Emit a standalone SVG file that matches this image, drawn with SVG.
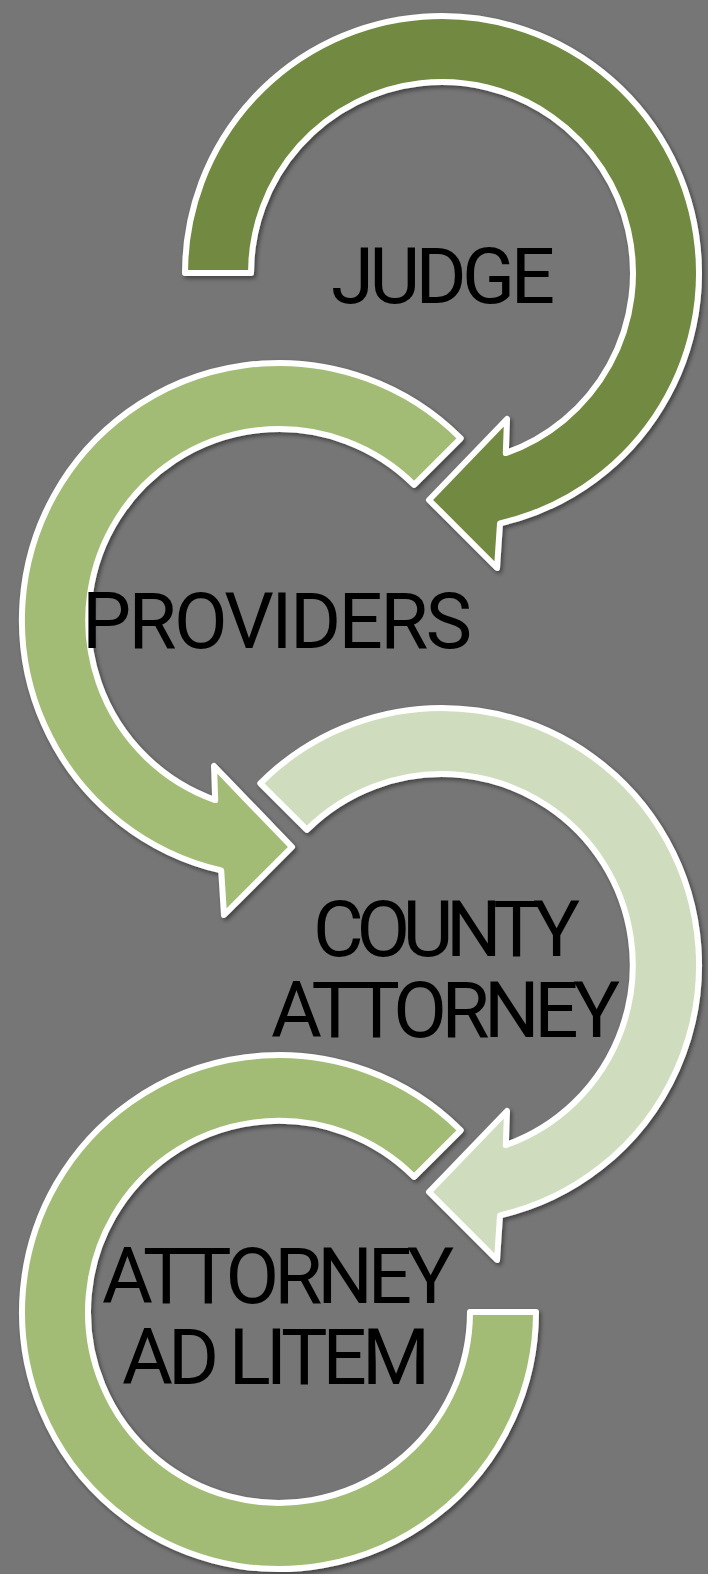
<svg xmlns="http://www.w3.org/2000/svg" width="708" height="1574" viewBox="0 0 708 1574">
<defs>
<filter id="sh" x="-10%" y="-10%" width="120%" height="120%">
<feDropShadow dx="2" dy="2.5" stdDeviation="2" flood-color="#000" flood-opacity="0.45"/>
</filter>
<style>
.arc{stroke:#ffffff;stroke-width:6;stroke-linejoin:round;filter:url(#sh)}
.lbl{font-family:Roboto,"Liberation Sans",sans-serif;font-size:78px;fill:#000000}
</style>
</defs>
<rect width="708" height="1574" fill="#767676"/>
<g id="connectors"></g>
<g id="judge">
<path class="arc" fill="#71893F" d="M185,273 A257,257 0 1 1 500,523.4 L497,568 L429,500 L507,419 L505.8,453.1 A191,191 0 1 0 251,273 Z"/>
<text class="lbl" x="331" y="303" textLength="224" lengthAdjust="spacing">JUDGE</text>
</g>
<g id="providers">
<path class="arc" fill="#A2BC76" d="M460.7,438.3 A257,257 0 1 0 221.2,870.4 L224,915 L292,847 L214,766 L215.2,800.1 A191,191 0 1 1 414.1,484.9 Z"/>
<text class="lbl" x="82" y="648" textLength="390" lengthAdjust="spacing">PROVIDERS</text>
</g>
<g id="county-attorney">
<path class="arc" fill="#CFDDBE" d="M260.3,783.3 A257,257 0 1 1 500,1215.4 L497,1260 L429,1192 L507,1111 L505.8,1145.1 A191,191 0 1 0 306.9,829.9 Z"/>
<text class="lbl" x="313" y="956" textLength="267" lengthAdjust="spacing">COUNTY</text>
<text class="lbl" x="271" y="1037" textLength="349" lengthAdjust="spacing">ATTORNEY</text>
</g>
<g id="attorney-ad-litem">
<path class="arc" fill="#A2BC76" d="M460.7,1130.3 A257,257 0 1 0 536,1312 L470,1312 A191,191 0 1 1 414.1,1176.9 Z"/>
<text class="lbl" x="102" y="1303" textLength="352" lengthAdjust="spacing">ATTORNEY</text>
<text class="lbl" x="122" y="1384" textLength="308" lengthAdjust="spacing">AD LITEM</text>
</g>
</svg>
